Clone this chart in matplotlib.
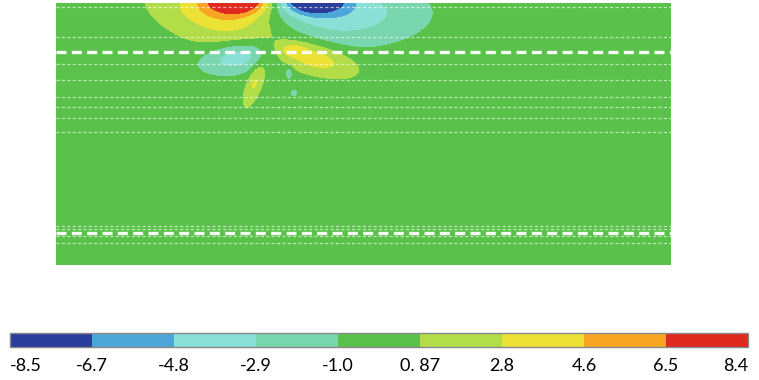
import numpy as np
import matplotlib
matplotlib.use('Agg')
import matplotlib.pyplot as plt
from matplotlib.colors import ListedColormap, BoundaryNorm
from matplotlib.cm import ScalarMappable

# colour classes of the legend
levels = [-8.5, -6.7, -4.8, -2.9, -1.0, 0.87, 2.8, 4.6, 6.5, 8.4]
tick_labels = ['-8.5', '-6.7', '-4.8', '-2.9', '-1.0', '0. 87', '2.8', '4.6', '6.5', '8.4']
colors = ['#2b3d9b', '#4da6d8', '#8adfd6', '#79d6ae', '#5ac24a',
          '#b2dc48', '#ece235', '#f7a624', '#e0291f']

# lobes of the field (x along section, y depth from top)
lobe_x = [184, 166, 256, 284, 182, 258, 236, 199, 233, 238]
lobe_y = [-4, 12, -4, 10, 54, 55, 47, 79, 70, 90]
lobe_amp = [9.5, 4.2, -9.5, -4.2, -4.3, 3.9, 2.0, 3.0, -2.5, -2.3]
lobe_sx = [22, 45, 22, 55, 25, 28, 8, 5, 3, 3]
lobe_sy = [10, 20, 10, 22, 11, 10, 4, 17, 5, 3]
lobe_ang = [0, 15, 0, 0, -10, 15, 0, 20, 0, 0]

# white dashed interfaces (depth) and which ones are heavy
line_y = [4, 34, 49, 61, 77, 94, 104, 115, 129, 223, 226, 230, 233, 240]
line_heavy = [0, 0, 1, 0, 0, 0, 0, 0, 0, 0, 0, 1, 0, 0]

W, H = 615, 262
xx, yy = np.meshgrid(np.arange(W + 1), np.arange(H + 1))
field = np.zeros_like(xx, dtype=float)
for cx, cy, a, sx, sy, ang in zip(lobe_x, lobe_y, lobe_amp, lobe_sx, lobe_sy, lobe_ang):
    t = np.deg2rad(ang)
    u = (xx - cx) * np.cos(t) + (yy - cy) * np.sin(t)
    v = -(xx - cx) * np.sin(t) + (yy - cy) * np.cos(t)
    field += a * np.exp(-0.5 * ((u / sx) ** 2 + (v / sy) ** 2))
field = np.clip(field, -8.49, 8.39)

fig = plt.figure(figsize=(7.59, 3.8), dpi=100)
ax = fig.add_axes([0.0738, 0.3026, 0.8103, 0.6895])
ax.contourf(xx, yy, field, levels=levels, colors=colors)
for y, heavy in zip(line_y, line_heavy):
    if heavy:
        ax.axhline(y, color='white', lw=2.4, dashes=(3, 1.6), alpha=0.95)
    else:
        ax.axhline(y, color='white', lw=0.9, dashes=(2.5, 1.8), alpha=0.6)
ax.set_xlim(0, W)
ax.set_ylim(H, 0)
ax.axis('off')

cax = fig.add_axes([0.0132, 0.0868, 0.9723, 0.0368])
sm = ScalarMappable(norm=BoundaryNorm(levels, len(colors)), cmap=ListedColormap(colors))
cb = fig.colorbar(sm, cax=cax, orientation='horizontal', ticks=levels)
cb.ax.set_xticklabels(tick_labels, fontsize=13, family='Lato')
cb.ax.tick_params(length=0, pad=8)
labels = cb.ax.get_xticklabels()
labels[0].set_horizontalalignment('left')
labels[-1].set_horizontalalignment('right')
cb.outline.set_edgecolor('#888888')
cb.outline.set_linewidth(1.0)

fig.savefig('out.png', dpi=100)
